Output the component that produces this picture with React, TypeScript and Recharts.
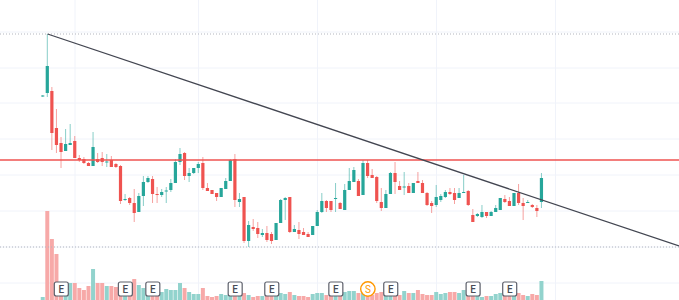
import {
  Bar,
  CartesianGrid,
  Cell,
  ComposedChart,
  ReferenceDot,
  ReferenceLine,
  XAxis,
  YAxis,
} from "recharts";

const UP = "#26a69a";
const DOWN = "#ef5350";
const UP_VOL = "#92d3cd";
const DOWN_VOL = "#f7a9a8";

// daily candles, oldest first
const opens = [
  20.35, 20.7, 20.9, 17.2, 15.7, 14.9, 15.5, 15.9, 14.2, 14.1,
  13.7, 13.4, 14.1, 14.2, 13.75, 14.0, 13.6, 13.4, 10.0, 10.2,
  9.7, 8.8, 10.4, 11.8, 12.1, 10.6, 10.5, 10.85, 11.0, 11.7,
  13.8, 14.7, 12.4, 12.7, 13.2, 13.7, 11.2, 11.0, 10.7, 10.3,
  11.1, 11.9, 14.1, 9.8, 10.3, 5.9, 7.3, 7.2, 6.5, 6.7,
  6.6, 6.0, 7.7, 10.0, 10.3, 6.8, 7.0, 6.8, 6.6, 6.5,
  7.4, 8.8, 9.9, 9.9, 10.1, 9.7, 9.0, 11.0, 11.8, 11.9,
  10.5, 13.7, 12.5, 12.3, 9.8, 9.2, 10.6, 12.7, 11.4, 11.25,
  11.4, 10.7, 11.9, 11.7, 10.7, 9.7, 9.5, 10.0, 10.3, 10.8,
  10.7, 10.2, 10.7, 10.9, 8.5, 8.4, 8.3, 8.8, 8.4, 8.8,
  9.0, 10.1, 9.9, 9.4, 10.7, 9.7, 9.7, 9.5, 9.2, 9.8,
];
const highs = [
  20.5, 26.6, 21.3, 19.1, 16.3, 17.1, 17.6, 16.4, 14.5, 14.3,
  13.8, 16.8, 14.7, 14.8, 14.6, 14.4, 13.7, 13.5, 10.6, 10.3,
  11.1, 10.7, 12.4, 12.4, 12.4, 11.3, 11.1, 11.3, 12.1, 14.1,
  15.2, 14.8, 13.2, 13.2, 13.8, 14.3, 11.7, 11.0, 10.7, 11.2,
  12.2, 14.1, 14.6, 10.7, 10.3, 7.9, 8.1, 7.8, 7.1, 7.4,
  6.8, 7.7, 10.1, 10.3, 10.3, 7.5, 7.8, 7.2, 6.8, 7.4,
  9.0, 10.7, 10.0, 9.9, 11.7, 9.8, 11.6, 13.2, 13.3, 12.1,
  14.0, 14.0, 13.1, 12.4, 11.2, 11.0, 12.8, 13.8, 11.9, 12.8,
  11.7, 11.7, 12.8, 12.0, 10.8, 9.9, 11.5, 10.6, 11.0, 11.2,
  11.2, 11.2, 12.5, 11.0, 9.1, 8.7, 9.5, 8.8, 8.9, 9.5,
  10.2, 10.5, 10.3, 10.7, 11.6, 10.2, 10.0, 9.6, 9.5, 12.7,
];
const lows = [
  20.3, 20.3, 15.0, 14.7, 13.2, 14.9, 15.5, 14.2, 13.8, 13.6,
  13.4, 13.4, 13.7, 13.4, 13.3, 13.3, 13.2, 9.6, 9.9, 9.5,
  7.8, 8.8, 9.4, 11.7, 9.7, 9.7, 10.3, 9.7, 10.8, 11.7,
  13.5, 12.0, 11.8, 12.6, 12.7, 11.0, 10.9, 10.6, 9.9, 10.3,
  11.1, 11.9, 9.3, 9.3, 5.7, 5.3, 6.9, 6.2, 6.3, 5.8,
  5.6, 6.0, 7.7, 8.0, 6.7, 6.8, 6.1, 6.5, 6.3, 6.5,
  7.4, 8.7, 8.8, 8.8, 8.8, 9.1, 9.0, 11.0, 11.8, 10.4,
  10.5, 12.2, 12.2, 9.7, 8.9, 9.2, 10.6, 10.6, 11.0, 10.5,
  10.7, 10.7, 11.7, 10.7, 9.4, 8.7, 9.3, 9.8, 10.2, 10.5,
  9.6, 10.2, 10.7, 9.4, 7.8, 8.3, 8.2, 8.2, 8.4, 8.8,
  9.0, 9.7, 9.4, 9.4, 9.5, 8.0, 9.7, 9.2, 8.3, 9.2,
];
const closes = [
  20.45, 23.4, 16.7, 15.5, 14.8, 15.6, 15.7, 14.2, 14.0, 13.7,
  13.4, 15.3, 13.8, 13.8, 13.85, 13.3, 13.3, 9.9, 10.1, 9.7,
  8.7, 10.4, 11.8, 12.2, 10.6, 10.5, 10.8, 10.95, 11.7, 13.8,
  14.6, 12.4, 12.7, 13.2, 13.6, 11.2, 10.9, 10.6, 10.3, 11.2,
  11.9, 14.0, 10.0, 10.1, 5.9, 7.5, 7.1, 6.6, 6.7, 6.0,
  5.9, 7.7, 10.0, 10.2, 6.8, 7.1, 6.6, 6.5, 6.3, 7.4,
  8.8, 9.9, 9.2, 9.0, 10.2, 9.1, 11.0, 11.9, 13.0, 10.4,
  13.7, 12.4, 12.2, 9.9, 9.2, 10.6, 12.7, 11.8, 11.0, 11.35,
  10.7, 11.7, 11.7, 10.7, 9.5, 9.4, 10.3, 10.4, 10.8, 10.6,
  10.0, 10.7, 10.8, 9.5, 7.8, 8.6, 8.8, 8.4, 8.8, 9.2,
  10.2, 9.8, 9.4, 10.7, 9.7, 9.4, 9.8, 9.3, 8.9, 12.2,
];
// shares, thousands
const volumes = [
  90, 2670, 1830, 1380, 360, 120, 510, 510, 360, 300,
  420, 930, 510, 510, 420, 420, 390, 420, 270, 300,
  630, 450, 360, 180, 240, 210, 240, 330, 300, 300,
  510, 360, 240, 180, 180, 360, 120, 90, 120, 180,
  150, 180, 270, 150, 210, 150, 90, 120, 120, 150,
  180, 180, 210, 180, 240, 150, 120, 120, 90, 180,
  210, 210, 150, 150, 180, 120, 240, 270, 270, 210,
  270, 210, 150, 210, 240, 180, 270, 180, 150, 270,
  210, 210, 300, 180, 150, 150, 240, 180, 210, 240,
  240, 210, 300, 180, 150, 120, 90, 120, 120, 180,
  210, 120, 150, 210, 210, 150, 120, 180, 150, 570,
];
// sessions whose volume prints as selling despite an up candle
const sellVolumeDays = [1];

// earnings ("E") and split ("S") events, by session index
const earningsDays = [4, 18, 24, 42, 50, 64, 76, 94, 102];
const splitDays = [71];

// levels
const resistance = 14.0;
const rangeHigh = 26.6;
const rangeLow = 5.3;
const trendStart = { x: 1, y: 26.6 };
const trendEnd = { x: 139, y: 5.4 };

const gridPrices = [1.7, 5.3, 8.9, 12.5, 16.1, 19.7, 23.2, 26.8];
const gridDays = [7, 34, 60, 86, 112];

const X_DOMAIN: [number, number] = [-9.4, 139];
const MARKER_LEVEL = 1.1;

const data = opens.map((open, i) => ({
  i,
  open,
  high: highs[i],
  low: lows[i],
  close: closes[i],
  volume: volumes[i],
}));

function Candle(props: any) {
  const { x, y, width, height, payload } = props;
  const { open, close, high, low } = payload;
  const color = close >= open ? UP : DOWN;
  const top = Math.min(y, y + height);
  const h = Math.abs(height);
  const ratio = h / (high - low);
  const cx = x + width / 2;
  const bodyTop = top + (high - Math.max(open, close)) * ratio;
  const bodyH = Math.max(Math.abs(open - close) * ratio, 1);
  return (
    <g>
      <line x1={cx} x2={cx} y1={top} y2={top + h} stroke={color} strokeOpacity={0.55} />
      <rect x={cx - 1.6} y={bodyTop} width={3.2} height={bodyH} fill={color} />
    </g>
  );
}

function EventMarker({ cx, cy, kind }: { cx: number; cy: number; kind: "E" | "S" }) {
  if (kind === "S") {
    return (
      <g>
        <circle cx={cx} cy={cy} r={7.2} fill="#fff" stroke="#ff9800" strokeWidth={1.4} />
        <text x={cx} y={cy + 3.6} textAnchor="middle" fontSize={10} fontFamily="Roboto, sans-serif" fill="#ff9800">
          S
        </text>
      </g>
    );
  }
  return (
    <g>
      <rect x={cx - 7} y={cy - 7} width={14} height={14} rx={2} fill="#fff" stroke="#5d606b" strokeWidth={1.2} />
      <text x={cx} y={cy + 3.6} textAnchor="middle" fontSize={10} fontWeight={500} fontFamily="Roboto, sans-serif" fill="#4a4d57">
        E
      </text>
    </g>
  );
}

export default function App() {
  return (
    <div style={{ position: "absolute", left: 0, top: 0, background: "#fff" }}>
      <ComposedChart
        width={679}
        height={300}
        data={data}
        margin={{ top: 0, right: 0, bottom: 0, left: 0 }}
      >
        <XAxis xAxisId="price" dataKey="i" type="number" domain={X_DOMAIN} ticks={gridDays} allowDataOverflow hide />
        <XAxis xAxisId="vol" dataKey="i" type="number" domain={X_DOMAIN} allowDataOverflow hide />
        <YAxis yAxisId="price" type="number" domain={[0, 30]} ticks={gridPrices} allowDataOverflow hide />
        <YAxis yAxisId="vol" type="number" domain={[0, 9000]} allowDataOverflow hide />

        <CartesianGrid xAxisId="price" yAxisId="price" stroke="#f0f3fa" syncWithTicks />

        <ReferenceLine xAxisId="price" yAxisId="price" y={rangeHigh} stroke="#b2b5be" strokeDasharray="1 2" />
        <ReferenceLine xAxisId="price" yAxisId="price" y={rangeLow} stroke="#b2b5be" strokeDasharray="1 2" />

        <Bar xAxisId="vol" yAxisId="vol" dataKey="volume" barSize={4} isAnimationActive={false}>
          {data.map((d) => (
            <Cell
              key={d.i}
              fill={d.close >= d.open && !sellVolumeDays.includes(d.i) ? UP_VOL : DOWN_VOL}
            />
          ))}
        </Bar>

        <Bar
          xAxisId="price"
          yAxisId="price"
          dataKey={(d: any) => [d.low, d.high]}
          barSize={4}
          shape={Candle}
          isAnimationActive={false}
        />

        <ReferenceLine xAxisId="price" yAxisId="price" y={resistance} stroke="#ef5350" strokeWidth={1.3} />
        <ReferenceLine
          xAxisId="price"
          yAxisId="price"
          segment={[trendStart, trendEnd]}
          stroke="#434651"
          strokeWidth={1.3}
          ifOverflow="visible"
        />

        {earningsDays.map((day) => (
          <ReferenceDot
            key={`e${day}`}
            xAxisId="price"
            yAxisId="price"
            x={day}
            y={MARKER_LEVEL}
            ifOverflow="visible"
            shape={(p: any) => <EventMarker cx={p.cx} cy={p.cy} kind="E" />}
          />
        ))}
        {splitDays.map((day) => (
          <ReferenceDot
            key={`s${day}`}
            xAxisId="price"
            yAxisId="price"
            x={day}
            y={MARKER_LEVEL}
            ifOverflow="visible"
            shape={(p: any) => <EventMarker cx={p.cx} cy={p.cy} kind="S" />}
          />
        ))}
      </ComposedChart>
    </div>
  );
}
